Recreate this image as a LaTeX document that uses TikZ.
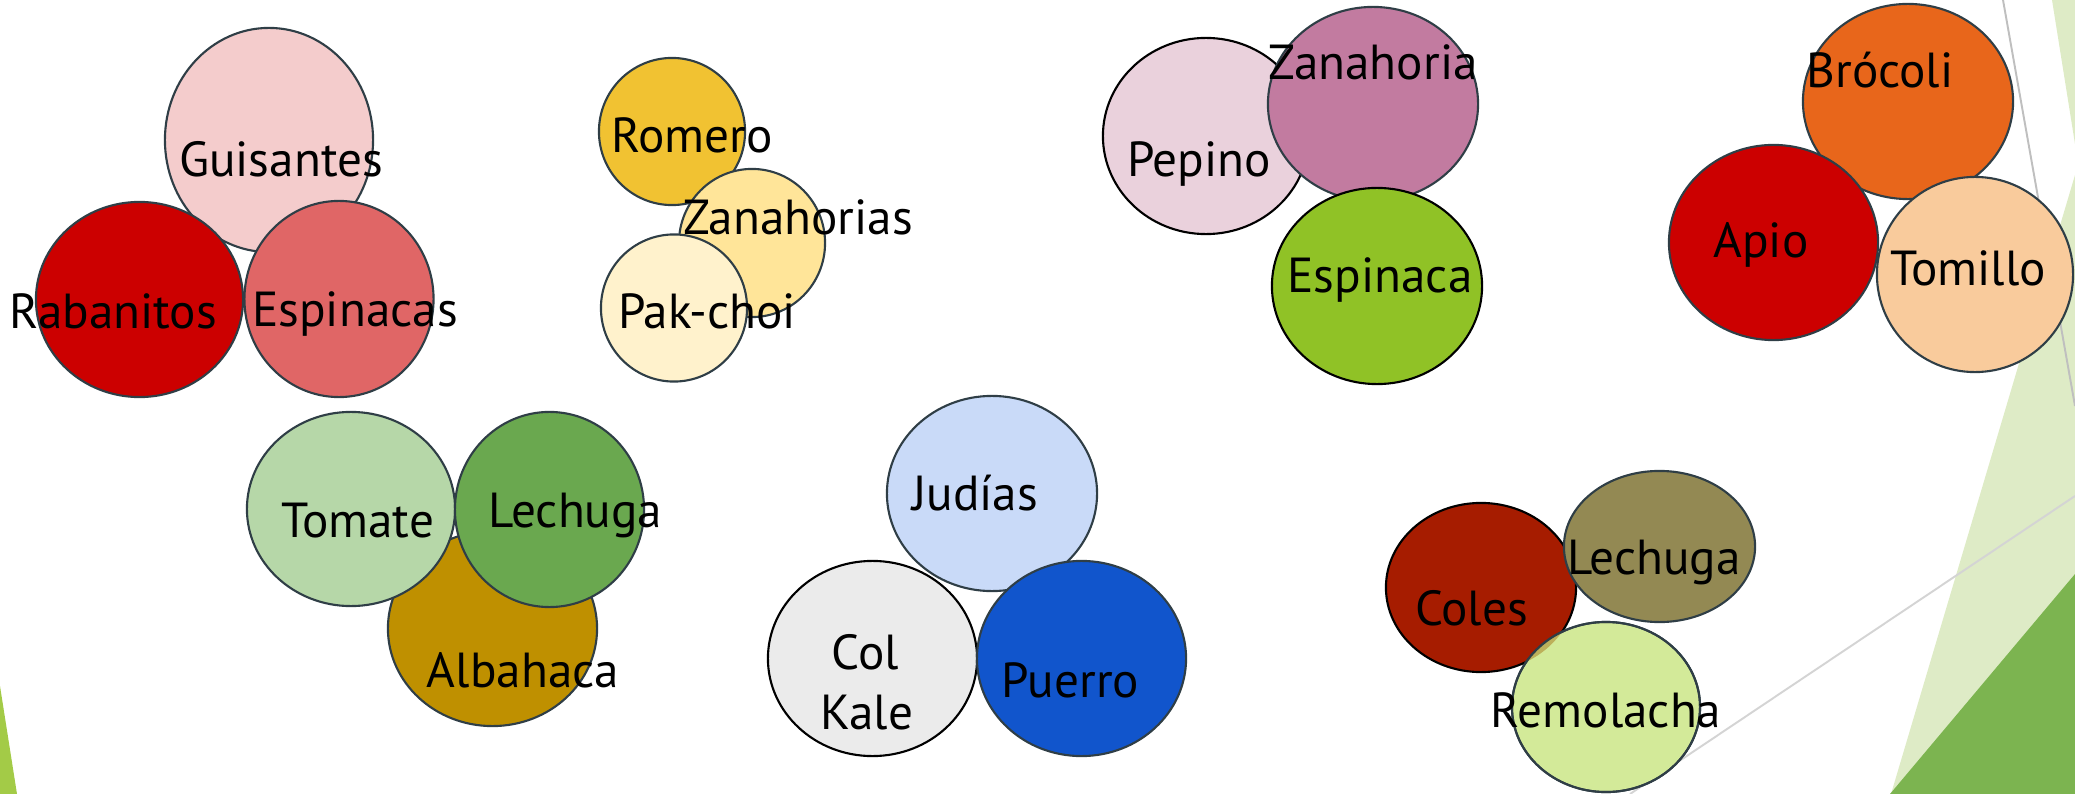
\documentclass[tikz,border=0pt]{standalone}
\usepackage{fontspec}
\setmainfont{PT Sans}
\usetikzlibrary{shapes.geometric}
\definecolor{edge}{HTML}{2F3E46}
\definecolor{lightgreen}{HTML}{DEEBC6}
\definecolor{darkgreen}{HTML}{7CB450}
\definecolor{limegreen}{HTML}{A3CB47}
\definecolor{greyline}{HTML}{BFBFBF}
\definecolor{greyline2}{HTML}{D4D4D4}
\definecolor{cGuis}{HTML}{F4CCCC}
\definecolor{cRab}{HTML}{CC0000}
\definecolor{cEspS}{HTML}{E06666}
\definecolor{cRom}{HTML}{F1C232}
\definecolor{cZanS}{HTML}{FFE599}
\definecolor{cPak}{HTML}{FFF2CC}
\definecolor{cPep}{HTML}{EAD1DC}
\definecolor{cZan}{HTML}{C27BA0}
\definecolor{cEsp}{HTML}{90C226}
\definecolor{cBro}{HTML}{E8661B}
\definecolor{cApio}{HTML}{CC0000}
\definecolor{cTom}{HTML}{F9CB9C}
\definecolor{cAlb}{HTML}{BF9000}
\definecolor{cTomate}{HTML}{B6D7A8}
\definecolor{cLech}{HTML}{6AA84F}
\definecolor{cJud}{HTML}{C9DAF8}
\definecolor{cCol}{HTML}{EBEBEB}
\definecolor{cPue}{HTML}{1155CC}
\definecolor{cColes}{HTML}{A61C00}
\definecolor{cLechB}{HTML}{938953}
\definecolor{cRem}{HTML}{D3EA99}
\definecolor{cLens}{HTML}{BDB05A}
\tikzset{
  blob/.style={ellipse, draw=edge, line width=0.6pt, inner sep=0pt, outer sep=0pt},
  blackblob/.style={blob, draw=black},
  lbl/.style={inner sep=0pt, anchor=base, text=black, font=\fontsize{14}{17}\selectfont},
}
% name, cx, cy, rx, ry, style, tx, ty, text
\newcommand\vegnode[9]{%
  \node[#6, minimum width=#4*0.02cm, minimum height=#5*0.02cm] (#1) at (#2,#3) {};
  \node[lbl] (#1t) at (#7,#8) {#9};
}
\begin{document}
\begin{tikzpicture}[x=0.01cm,y=-0.01cm]
\useasboundingbox (0,0) rectangle (2075,794);
% background decorations
\fill[lightgreen] (2052,0) -- (2075,0) -- (2075,144) -- cycle;
\fill[lightgreen] (2075,175) -- (2075,794) -- (1891,794) -- cycle;
\draw[greyline, line width=0.55pt] (2003,0) -- (2075,406);
\draw[greyline2, line width=0.55pt] (1630,794) -- (2075,496);
\fill[darkgreen] (2075,574) -- (2075,794) -- (1890,794) -- cycle;
\fill[limegreen] (0,686) -- (17,794) -- (0,794) -- cycle;
% group 1
\vegnode{guis}{269}{140}{104}{112}{blob, fill=cGuis}{281}{177}{Guisantes}
\vegnode{rab}{139.5}{299.5}{103.5}{97.5}{blob, fill=cRab}{113}{328}{Rabanitos}
\vegnode{esps}{339}{299}{94.5}{98}{blob, fill=cEspS}{355}{327}{Espinacas}
% group 2
\vegnode{rom}{672}{131.5}{73}{73.5}{blob, fill=cRom}{692}{153}{Romero}
\vegnode{zans}{752}{243}{73}{74}{blob, fill=cZanS}{798}{235}{Zanahorias}
\vegnode{pak}{674}{308}{73}{73.5}{blob, fill=cPak}{707}{328}{Pak-choi}
% group 3
\vegnode{pep}{1206}{136}{103}{98}{blackblob, fill=cPep}{1199}{177}{Pepino}
\vegnode{zan}{1373}{104}{105}{97}{blob, fill=cZan}{1373}{80}{Zanahoria}
\vegnode{esp}{1377}{286}{105}{98}{blackblob, fill=cEsp}{1380}{293}{Espinaca}
% group 4
\vegnode{bro}{1908}{101.5}{105}{97.5}{blob, fill=cBro}{1880}{88}{Brócoli}
\vegnode{apio}{1773.5}{242.5}{104.5}{97.5}{blob, fill=cApio}{1761}{258}{Apio}
\vegnode{tomi}{1975}{274.5}{98}{97.5}{blob, fill=cTom}{1968}{285}{Tomillo}
% group 5
\vegnode{alb}{492.5}{628.5}{104.5}{97.5}{blob, fill=cAlb}{523}{687}{Albahaca}
\vegnode{tomate}{351}{509}{104}{97}{blob, fill=cTomate}{357.5}{537}{Tomate}
\vegnode{lech}{549.5}{509.5}{94.5}{97.5}{blob, fill=cLech}{575.5}{527}{Lechuga}
% group 6
\vegnode{jud}{992}{493.5}{105}{97.5}{blob, fill=cJud}{975}{510}{Judías}
\vegnode{col}{872.5}{658.5}{104.5}{97.5}{blackblob, fill=cCol}{865.5}{669}{Col}
\node[lbl] (kalet) at (867,729) {Kale};
\vegnode{pue}{1081.5}{658.5}{104.5}{97.5}{blob, fill=cPue}{1070.5}{697}{Puerro}
% group 7
\vegnode{coles}{1481}{587.5}{95}{84.5}{blackblob, fill=cColes}{1471.5}{625}{Coles}
\vegnode{lechb}{1659.5}{546.5}{95.5}{75.5}{blob, fill=cLechB}{1654}{574}{Lechuga}
\node[blob, fill=cRem, minimum width=1.88cm, minimum height=1.70cm] (rem) at (1606,707) {};
\begin{scope}
  \clip (1481,587.5) ellipse [x radius=0.95cm, y radius=0.845cm];
  \fill[cLens] (1606,707) ellipse [x radius=0.94cm, y radius=0.85cm];
\end{scope}
\draw[edge, line width=0.6pt] (1606,707) ellipse [x radius=0.94cm, y radius=0.85cm];
\node[lbl] (remt) at (1606,727) {Remolacha};
\end{tikzpicture}
\end{document}
